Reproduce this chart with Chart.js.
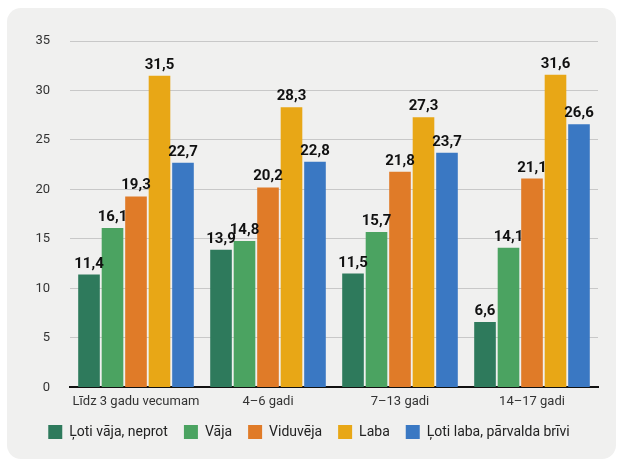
<!DOCTYPE html>
<html><head><meta charset="utf-8">
<script src="https://cdn.jsdelivr.net/npm/chart.js@4"></script>
<style>html,body{margin:0;padding:0;background:#fff;}#w{position:absolute;left:0;top:0;width:618px;height:461px;}</style>
</head><body><div id="w"><canvas id="c" width="618" height="461"></canvas></div>
<script>
const categories = ["Līdz 3 gadu vecumam", "4–6 gadi", "7–13 gadi", "14–17 gadi"];
const seriesNames = ["Ļoti vāja, neprot", "Vāja", "Viduvēja", "Laba", "Ļoti laba, pārvalda brīvi"];
const lotiVaja = [11.4, 13.9, 11.5, 6.6];
const vaja = [16.1, 14.8, 15.7, 14.1];
const viduveja = [19.3, 20.2, 21.8, 21.1];
const laba = [31.5, 28.3, 27.3, 31.6];
const lotiLaba = [22.7, 22.8, 23.7, 26.6];
const colors = ["#2e7a5c", "#4ba361", "#e07b28", "#e8a716", "#3a78c3"];
const FONT = "'Roboto', sans-serif";

const panel = {
  id: 'panel',
  beforeDraw(chart) {
    const ctx = chart.ctx;
    ctx.save();
    ctx.fillStyle = '#f0f0ef';
    ctx.beginPath();
    ctx.roundRect(7, 8, 609, 451, 14);
    ctx.fill();
    ctx.restore();
  }
};
const labels = {
  id: 'vlabels',
  afterDatasetsDraw(chart) {
    const ctx = chart.ctx;
    ctx.save();
    ctx.font = "bold 15px " + FONT;
    ctx.fillStyle = '#111';
    ctx.textAlign = 'center';
    ctx.textBaseline = 'alphabetic';
    chart.data.datasets.forEach((ds, i) => {
      chart.getDatasetMeta(i).data.forEach((bar, j) => {
        ctx.fillText(String(ds.data[j]).replace('.', ','), bar.x, bar.y - 7);
      });
    });
    ctx.restore();
  }
};
const data = [lotiVaja, vaja, viduveja, laba, lotiLaba];
new Chart(document.getElementById('c'), {
  type: 'bar',
  data: {
    labels: categories,
    datasets: data.map((d, i) => ({
      label: seriesNames[i], data: d, backgroundColor: colors[i],
      categoryPercentage: 0.89, barPercentage: 0.92
    }))
  },
  options: {
    responsive: false, animation: false, devicePixelRatio: 1,
    layout: { padding: { left: 0, right: 0, top: 41, bottom: 12 } },
    plugins: {
      legend: {
        position: 'bottom',
        labels: { boxWidth: 14, boxHeight: 14, padding: 16, color: '#222', font: { family: FONT, size: 14 } }
      },
      tooltip: { enabled: false }
    },
    scales: {
      x: {
        afterFit(s) { s.height = s.height - 8; },
        grid: { display: false, drawTicks: false },
        border: { color: '#111', width: 2 },
        ticks: { color: '#333', padding: 7, maxRotation: 0, minRotation: 0, autoSkip: false, font: { family: FONT, size: 13 } }
      },
      y: {
        min: 0, max: 35,
        afterFit(s) { s.width = 70; },
        ticks: { stepSize: 5, color: '#333', padding: 20, font: { family: FONT, size: 13 } },
        grid: { color: '#c8c8c8', drawTicks: false },
        border: { display: false }
      },
      y2: {
        position: 'right', min: 0, max: 35,
        afterFit(s) { s.width = 20; },
        ticks: { display: false },
        grid: { display: false, drawTicks: false },
        border: { display: false }
      }
    }
  },
  plugins: [panel, labels]
});
</script></body></html>
